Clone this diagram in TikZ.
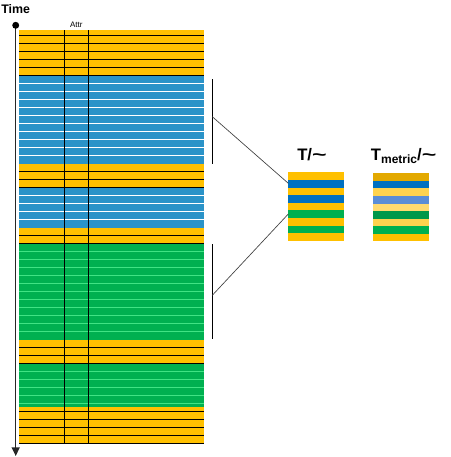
\documentclass[tikz,border=0pt]{standalone}
\usepackage{fontspec}
\setmainfont{Liberation Sans}
\usetikzlibrary{arrows.meta}

\definecolor{orng}{HTML}{FFC000}
\definecolor{blu}{HTML}{2A93C8}
\definecolor{grn}{HTML}{00B050}
\definecolor{grnline}{HTML}{40E384}
\definecolor{dblu}{HTML}{0070C0}
\definecolor{gold}{HTML}{E3A900}
\definecolor{lorng}{HTML}{FFD34F}
\definecolor{porng}{HTML}{FFDA70}
\definecolor{mblu}{HTML}{5B8DD6}
\definecolor{dgrn}{HTML}{00984A}

\begin{document}
\begin{tikzpicture}[
    x=0.75pt, y=-0.75pt,
    every node/.style={inner sep=0pt},
    rowline/.style={black, line width=0.75pt},
    bluline/.style={white, line width=0.75pt},
    grnsep/.style={grnline, line width=0.75pt},
    colline/.style={black, line width=0.8pt},
    timeaxis/.style={line width=1.1pt, black!85, -{Triangle[length=6.5pt, width=6pt]}},
    bracket/.style={black, line width=0.8pt},
    zoomline/.style={black!75, line width=0.5pt}
]
\useasboundingbox (0,0) rectangle (450,457);

% time table
\foreach \a/\b/\c in {30/75.5/orng, 75.5/163.5/blu, 163.5/187.5/orng, 187.5/227.5/blu,
    227.5/243.5/orng, 243.5/339.5/grn, 339.5/363.7/orng, 363.7/407/grn, 407/444/orng}
  \fill[\c] (19.3,\a) rectangle (204.3,\b);
\foreach \k in {6,7,8,9,10,11,12,13,14,15,20,21,22,23}
  \draw[bluline] (19.3,{35.3+8.008*\k}) -- (204.3,{35.3+8.008*\k});
\foreach \k in {27,28,29,30,31,32,33,34,35,36,37,42,43,44,45,46}
  \draw[grnsep] (19.3,{35.3+8.008*\k}) -- (204.3,{35.3+8.008*\k});
\foreach \k in {0,1,2,3,4,5,17,18,19,25,26,39,40,41,47,48,49,50,51}
  \draw[rowline] (19.3,{35.3+8.008*\k}) -- (204.3,{35.3+8.008*\k});
\foreach \x in {64.3,88.3}
  \draw[colline] (\x,30) -- (\x,444);

\node[anchor=base, font=\fontsize{6}{7}\selectfont] (attr) at (76.3,27) {Attr};

% time axis
\coordinate (tdot) at (15.7,25.3);
\coordinate (tend) at (15.7,456);
\draw[timeaxis] (tdot) -- (tend);
\fill[black] (tdot) circle (2.6pt);
\node[anchor=base west, font=\fontsize{9.3}{10}\selectfont\bfseries] (time) at (1,13.3) {Time};

% brackets
\coordinate (brAtop) at (212.3,79);
\coordinate (brAbot) at (212.3,164.3);
\coordinate (brAmid) at (212.3,116.7);
\coordinate (brBtop) at (212.3,244.3);
\coordinate (brBbot) at (212.3,339.3);
\coordinate (brBmid) at (212.3,295.3);
\draw[bracket] (brAtop) -- (brAbot);
\draw[bracket] (brBtop) -- (brBbot);

% quotient blocks
\foreach \c [count=\i from 0] in {orng,dblu,orng,dblu,orng,grn,orng,grn,orng}
  \fill[\c] (288.3,{172.3+7.6*\i}) rectangle (344.3,{172.3+7.6*(\i+1)});
\foreach \c [count=\i from 0] in {gold,dblu,lorng,mblu,porng,dgrn,lorng,grn,orng}
  \fill[\c] (373.3,{173.3+7.56*\i}) rectangle (429.3,{173.3+7.56*(\i+1)});
\coordinate (quotA) at (288.3,183.3);
\coordinate (quotB) at (288.3,214);

\draw[zoomline] (brAmid) -- (quotA);
\draw[zoomline] (brBmid) -- (quotB);

\node[anchor=base, font=\fontsize{12.5}{13}\selectfont\bfseries] (quot) at (312,160.7)
  {T/\scalebox{1.5}[1]{\textasciitilde}};
\node[anchor=base west, font=\fontsize{12.5}{13}\selectfont\bfseries] (quotm) at (370.7,160.7)
  {T\raisebox{-2pt}{\fontsize{9}{10}\selectfont metric}/\scalebox{1.5}[1]{\textasciitilde}};
\end{tikzpicture}
\end{document}
